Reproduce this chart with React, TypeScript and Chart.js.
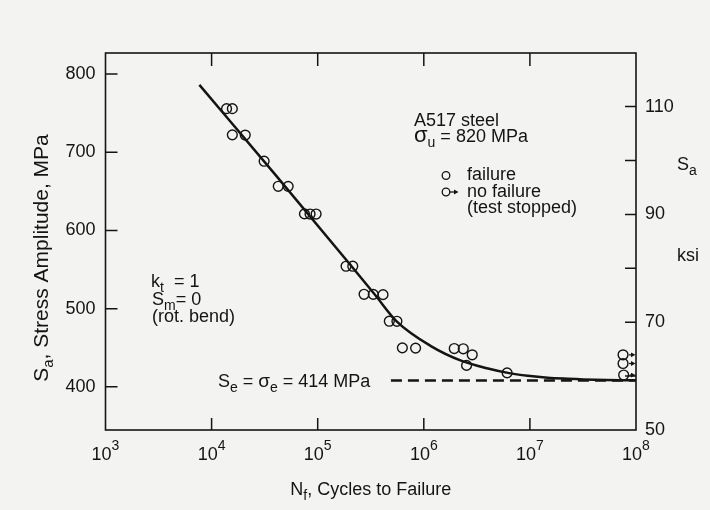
import React, { useEffect, useRef } from 'react';
import { Chart, registerables } from 'chart.js';

Chart.register(...registerables);

// ---------------- data ----------------
const cycleTicks = [1e3, 1e4, 1e5, 1e6, 1e7, 1e8];
const cycleExponents = ['3', '4', '5', '6', '7', '8'];
const mpaTicks = [400, 500, 600, 700, 800];
const ksiTicks = [50, 60, 70, 80, 90, 100, 110];
const ksiLabelled = [50, 70, 90, 110];

// failures (open circles)
const failureCycles = [13840, 15680, 15680, 20750, 31260, 42480, 52700, 75000, 84700, 96600, 185000, 214000, 273500, 334000, 412700, 473000, 558000, 628000, 837000, 1936000, 2355000, 2860000, 2530000, 6100000];
const failureStress = [755.8, 755.8, 722.3, 722.0, 688.6, 656.5, 656.4, 621.2, 621.0, 621.0, 554.2, 554.3, 518.3, 518.2, 517.9, 483.9, 483.8, 449.8, 449.5, 448.9, 448.6, 440.9, 427.4, 417.8];

// run-outs (test stopped)
const runoutCycles = [7.55e7, 7.55e7, 7.65e7];
const runoutStress = [440.9, 429.8, 415.0];

// fitted S-N curve
const fitCycles = [7670, 40360, 207500, 346700, 554600, 1178000, 2244000, 4027000, 6209000, 9550000, 14720000, 22750000, 40830000, 1e8];
const fitStress = [786.2, 670.4, 554.5, 517.7, 483.8, 451.8, 433.5, 423.4, 417.8, 414.1, 411.6, 410.3, 409.0, 408.3];

// endurance limit line
const enduranceCycles = [4.9e5, 1e8];
const enduranceStress = [408, 408];

const MPA_PER_KSI = 6.894757;
const Y_MIN_MPA = 50 * MPA_PER_KSI;
const Y_MAX_MPA = 827;

// ---------------- styles ----------------
const FONT = '"Liberation Sans", Arial, Helvetica, sans-serif';
const INK = '#141414';
const BG = '#f3f3f2';
const f = (s: number) => `${s}px ${FONT}`;

type Seg = { t: string; size?: number; dy?: number };

function drawSegs(ctx: CanvasRenderingContext2D, segs: Seg[], x: number, y: number, align: 'left' | 'center' = 'left', base = 18) {
  let total = 0;
  const widths = segs.map((s) => {
    ctx.font = f(s.size ?? base);
    const w = ctx.measureText(s.t).width;
    total += w;
    return w;
  });
  let cx = align === 'center' ? x - total / 2 : x;
  ctx.textAlign = 'left';
  ctx.textBaseline = 'alphabetic';
  segs.forEach((s, i) => {
    ctx.font = f(s.size ?? base);
    ctx.fillText(s.t, cx, y + (s.dy ?? 0));
    cx += widths[i];
  });
}

function arrow(ctx: CanvasRenderingContext2D, x0: number, x1: number, y: number) {
  ctx.beginPath();
  ctx.moveTo(x0, y);
  ctx.lineTo(x1 - 3, y);
  ctx.stroke();
  ctx.beginPath();
  ctx.moveTo(x1, y);
  ctx.lineTo(x1 - 4.5, y - 2.4);
  ctx.lineTo(x1 - 4.5, y + 2.4);
  ctx.closePath();
  ctx.fill();
}

const paperPlugin = {
  id: 'paper',
  beforeDraw(chart: any) {
    const { ctx, width, height } = chart;
    ctx.save();
    ctx.fillStyle = BG;
    ctx.fillRect(0, 0, width, height);
    ctx.restore();
  },
  beforeDatasetsDraw(chart: any) {
    const { ctx, chartArea: a, scales } = chart;
    ctx.save();
    ctx.strokeStyle = INK;
    ctx.lineWidth = 1.6;
    ctx.strokeRect(a.left, a.top, a.right - a.left, a.bottom - a.top);
    ctx.lineWidth = 1.5;
    ctx.beginPath();
    cycleTicks.forEach((v) => {
      const px = scales.x.getPixelForValue(v);
      if (px > a.left + 1 && px < a.right - 1) {
        ctx.moveTo(px, a.bottom);
        ctx.lineTo(px, a.bottom - 12);
        ctx.moveTo(px, a.top);
        ctx.lineTo(px, a.top + 13);
      }
    });
    mpaTicks.forEach((v) => {
      const py = scales.y.getPixelForValue(v);
      ctx.moveTo(a.left, py);
      ctx.lineTo(a.left + 12, py);
    });
    ksiTicks.forEach((v) => {
      const py = scales.ksi.getPixelForValue(v);
      if (py < a.bottom - 1) {
        ctx.moveTo(a.right, py);
        ctx.lineTo(a.right - 11, py);
      }
    });
    ctx.stroke();
    ctx.restore();
  },
  afterDatasetsDraw(chart: any) {
    const { ctx, chartArea: a, scales } = chart;
    ctx.save();
    ctx.strokeStyle = INK;
    ctx.fillStyle = INK;
    ctx.lineWidth = 1.3;

    // run-out arrows
    const meta = chart.getDatasetMeta(3);
    meta.data.forEach((el: any) => {
      const { x, y } = el.getProps(['x', 'y'], true);
      arrow(ctx, x + 6, a.right - 0.5, y);
    });

    // x tick labels 10^n
    cycleTicks.forEach((v, i) => {
      const px = scales.x.getPixelForValue(v);
      ctx.font = f(18);
      const w1 = ctx.measureText('10').width;
      ctx.font = f(14);
      const w2 = ctx.measureText(cycleExponents[i]).width;
      const x0 = px - (w1 + w2) / 2;
      ctx.textAlign = 'left';
      ctx.textBaseline = 'alphabetic';
      ctx.font = f(18);
      ctx.fillText('10', x0, a.bottom + 29.5);
      ctx.font = f(14);
      ctx.fillText(cycleExponents[i], x0 + w1, a.bottom + 19.5);
    });

    // axis titles
    const cx = (a.left + a.right) / 2;
    drawSegs(ctx, [{ t: 'N' }, { t: 'f', size: 14, dy: 5 }, { t: ', Cycles to Failure' }], cx, a.bottom + 64.5, 'center');

    ctx.save();
    ctx.translate(48, (a.top + a.bottom) / 2 + 16.5);
    ctx.rotate(-Math.PI / 2);
    drawSegs(ctx, [{ t: 'S', size: 21 }, { t: 'a', size: 15, dy: 5 }, { t: ', Stress Amplitude, MPa', size: 21 }], 0, 0, 'center');
    ctx.restore();

    // right axis title
    drawSegs(ctx, [{ t: 'S' }, { t: 'a', size: 14, dy: 5 }], a.right + 41, 170);
    drawSegs(ctx, [{ t: 'ksi' }], a.right + 41, 261);

    // annotations
    drawSegs(ctx, [{ t: 'A517 steel' }], 414, 126);
    drawSegs(ctx, [{ t: 'σ', size: 22 }, { t: 'u', size: 14, dy: 5 }, { t: ' = 820 MPa' }], 414, 142);

    // legend
    ctx.lineWidth = 1.3;
    ctx.beginPath();
    ctx.arc(446, 175.5, 3.8, 0, Math.PI * 2);
    ctx.stroke();
    ctx.beginPath();
    ctx.arc(446, 192, 3.8, 0, Math.PI * 2);
    ctx.stroke();
    arrow(ctx, 449.8, 458.5, 192);
    drawSegs(ctx, [{ t: 'failure' }], 467, 180);
    drawSegs(ctx, [{ t: 'no failure' }], 467, 197);
    drawSegs(ctx, [{ t: '(test stopped)' }], 467, 213);

    drawSegs(ctx, [{ t: 'k' }, { t: 't', size: 14, dy: 5 }, { t: '  = 1' }], 151, 287);
    drawSegs(ctx, [{ t: 'S' }, { t: 'm', size: 14, dy: 5 }, { t: '= 0' }], 152, 305);
    drawSegs(ctx, [{ t: '(rot. bend)' }], 152, 322);
    drawSegs(
      ctx,
      [
        { t: 'S' },
        { t: 'e', size: 14, dy: 5 },
        { t: ' = ' },
        { t: 'σ', size: 19 },
        { t: 'e', size: 14, dy: 5 },
        { t: ' = 414 MPa' },
      ],
      218,
      387,
    );
    ctx.restore();
  },
};

export default function App() {
  const ref = useRef<HTMLCanvasElement>(null);

  useEffect(() => {
    const canvas = ref.current;
    if (!canvas) return;
    const pts = (xs: number[], ys: number[]) => xs.map((x, i) => ({ x, y: ys[i] }));

    const chart = new Chart(canvas, {
      type: 'scatter',
      data: {
        datasets: [
          {
            label: 'fit',
            data: pts(fitCycles, fitStress),
            showLine: true,
            borderColor: INK,
            borderWidth: 2.5,
            pointRadius: 0,
            cubicInterpolationMode: 'monotone',
            yAxisID: 'y',
          },
          {
            label: 'endurance',
            data: pts(enduranceCycles, enduranceStress),
            showLine: true,
            borderColor: INK,
            borderWidth: 2.5,
            borderDash: [11, 6],
            pointRadius: 0,
            yAxisID: 'y',
          },
          {
            label: 'failure',
            data: pts(failureCycles, failureStress),
            pointStyle: 'circle',
            pointRadius: 4.9,
            pointBorderWidth: 1.4,
            pointBackgroundColor: 'rgba(0,0,0,0)',
            pointBorderColor: INK,
            yAxisID: 'y',
          },
          {
            label: 'no failure',
            data: pts(runoutCycles, runoutStress),
            pointStyle: 'circle',
            pointRadius: 4.9,
            pointBorderWidth: 1.4,
            pointBackgroundColor: 'rgba(0,0,0,0)',
            pointBorderColor: INK,
            yAxisID: 'y',
          },
        ],
      },
      options: {
        animation: false,
        responsive: false,
        maintainAspectRatio: false,
        devicePixelRatio: 1,
        layout: { padding: { top: 53, left: 0, right: 0, bottom: 0 } },
        plugins: { legend: { display: false }, tooltip: { enabled: false } },
        scales: {
          x: {
            type: 'logarithmic',
            position: 'bottom',
            min: 1e3,
            max: 1e8,
            grid: { display: false },
            border: { display: false },
            ticks: { display: false },
            afterFit: (s: any) => {
              s.height = 80;
            },
          },
          y: {
            type: 'linear',
            position: 'left',
            min: Y_MIN_MPA,
            max: Y_MAX_MPA,
            grid: { display: false, drawTicks: false },
            border: { display: false },
            afterBuildTicks: (s: any) => {
              s.ticks = mpaTicks.map((v) => ({ value: v }));
            },
            ticks: {
              autoSkip: false,
              padding: 10,
              color: INK,
              font: { family: FONT, size: 18 },
              callback: (v: any) => String(v),
            },
            afterFit: (s: any) => {
              s.width = 105.5;
            },
          },
          ksi: {
            type: 'linear',
            position: 'right',
            min: 50,
            max: Y_MAX_MPA / MPA_PER_KSI,
            grid: { display: false, drawTicks: false },
            border: { display: false },
            afterBuildTicks: (s: any) => {
              s.ticks = ksiTicks.map((v) => ({ value: v }));
            },
            ticks: {
              autoSkip: false,
              padding: 9,
              color: INK,
              font: { family: FONT, size: 18 },
              callback: (v: any) => (ksiLabelled.includes(Number(v)) ? String(v) : ''),
            },
            afterFit: (s: any) => {
              s.width = 74;
            },
          },
        },
      },
      plugins: [paperPlugin],
    } as any);

    return () => chart.destroy();
  }, []);

  return (
    <div style={{ position: 'absolute', left: 0, top: 0, width: 710, height: 510, background: BG }}>
      <canvas ref={ref} width={710} height={510} style={{ display: 'block', width: 710, height: 510 }} />
    </div>
  );
}
